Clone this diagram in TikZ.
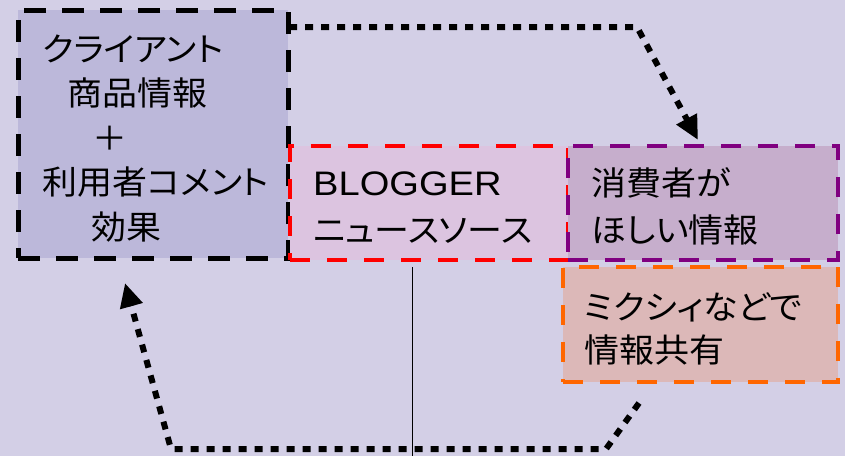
\documentclass[tikz,border=0pt]{standalone}
\usepackage{fontspec}
\setmainfont{Noto Sans CJK JP}[FakeStretch=1.06,RawFeature={+palt}]
\newfontfamily\latfont{Liberation Sans}[FakeStretch=1.12]
\usetikzlibrary{arrows.meta}
\definecolor{bgc}{RGB}{211,207,230}
\definecolor{clifill}{RGB}{188,184,218}
\definecolor{redfill}{RGB}{220,196,224}
\definecolor{purfill}{RGB}{198,174,204}
\definecolor{orgfill}{RGB}{220,184,184}
\definecolor{purline}{RGB}{128,0,128}
\definecolor{orgline}{RGB}{255,102,0}
\tikzset{
  boxdash/.style={draw, line width=4pt, dash pattern=on 20pt off 17pt, inner sep=0pt, outer sep=0pt, anchor=north west},
  clibox/.style={boxdash, line width=5pt, dash pattern=on 22pt off 16pt, draw=black, fill=clifill},
  txt/.style={anchor=base west, align=left, inner sep=0pt, font=\fontsize{33}{44.5}\selectfont},
  dotarrow/.style={line width=6pt, dash pattern=on 8pt off 8pt, -{Triangle[length=24pt,width=22pt]}},
}
\begin{document}
\begin{tikzpicture}[x=1pt,y=-1pt]
\fill[bgc] (0,0) rectangle (845,456);
\useasboundingbox (0,0) rectangle (845,456);
% boxes
\node[clibox, minimum width=270pt, minimum height=248pt] (cli) at (18,10) {};
\node[boxdash, draw=red, fill=redfill, minimum width=278pt, minimum height=114pt] (blog) at (290,146) {};
\node[boxdash, draw=purline, fill=purfill, minimum width=270pt, minimum height=114pt] (need) at (568,146) {};
\node[boxdash, draw=orgline, fill=orgfill, minimum width=275pt, minimum height=115pt] (mixi) at (563,267) {};
% texts (base anchor = baseline of last line)
\node[txt] (clitxt) at (42,239) {クライアント\\\hspace*{25pt}商品情報\\\hspace*{50pt}＋\\利用者コメント\\\hspace*{49pt}効果};
\node[txt, font=\fontsize{33}{47}\selectfont] (blogtxt) at (313,242) {{\latfont\fontsize{34}{47}\selectfont BLOGGER}\\ニュースソース};
\node[txt, font=\fontsize{33}{47}\selectfont] (needtxt) at (591,242) {消費者が\\ほしい情報};
\node[txt, font=\fontsize{33}{43}\selectfont] (mixitxt) at (584,362) {ミクシィなどで\\情報共有};
% thin line
\coordinate (lbot) at (412,456);
\draw[line width=1pt] (blog.south -| lbot) ++(0,7) -- (lbot);
% dotted arrows
\coordinate (a1) at (289,27);
\coordinate (a2) at (637,27);
\coordinate (a3) at (698,140);
\draw[dotarrow] (a1) -- (a2) -- (a3);
\coordinate (b1) at (639,403);
\coordinate (b2) at (606,449);
\coordinate (b3) at (171,449);
\coordinate (b4) at (125,283);
\draw[dotarrow] (b1) -- (b2) -- (b3) -- (b4);
\end{tikzpicture}
\end{document}
